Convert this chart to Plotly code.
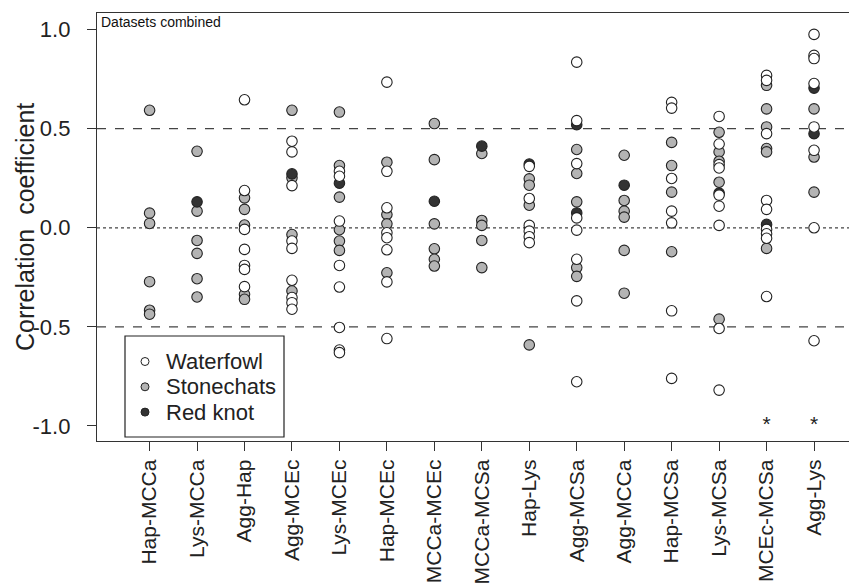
import plotly.graph_objects as go

categories = ["Hap-MCCa", "Lys-MCCa", "Agg-Hap", "Agg-MCEc", "Lys-MCEc", "Hap-MCEc",
              "MCCa-MCEc", "MCCa-MCSa", "Hap-Lys", "Agg-MCSa", "Agg-MCCa", "Hap-MCSa",
              "Lys-MCSa", "MCEc-MCSa", "Agg-Lys"]

waterfowl = {
    "Hap-MCCa": [],
    "Lys-MCCa": [],
    "Agg-Hap": [0.646, 0.188, -0.008, -0.109, -0.19, -0.21, -0.297],
    "Agg-MCEc": [0.437, 0.383, 0.213, -0.067, -0.104, -0.265, -0.352, -0.378, -0.411],
    "Lys-MCEc": [0.285, 0.26, 0.034, -0.19, -0.299, -0.503, -0.617, -0.63],
    "Hap-MCEc": [0.735, 0.285, 0.101, -0.025, -0.05, -0.111, -0.273, -0.559],
    "MCCa-MCEc": [],
    "MCCa-MCSa": [],
    "Hap-Lys": [0.31, 0.148, 0.012, -0.017, -0.045, -0.075],
    "Agg-MCSa": [0.836, 0.541, 0.324, 0.05, -0.012, -0.159, -0.369, -0.777],
    "Agg-MCCa": [],
    "Hap-MCSa": [0.633, 0.604, 0.249, 0.084, 0.025, -0.419, -0.760],
    "Lys-MCSa": [0.562, 0.423, 0.319, 0.302, 0.165, 0.109, 0.012, -0.508, -0.819],
    "MCEc-MCSa": [0.769, 0.744, 0.475, 0.138, 0.093, -0.008, -0.03, -0.053, -0.347],
    "Agg-Lys": [0.976, 0.87, 0.854, 0.728, 0.509, 0.391, 0.0, -0.570],
}

stonechats = {
    "Hap-MCCa": [0.593, 0.074, 0.022, -0.272, -0.416, -0.436],
    "Lys-MCCa": [0.386, 0.084, -0.064, -0.129, -0.257, -0.349],
    "Agg-Hap": [0.151, 0.093, 0.014, -0.336, -0.361],
    "Agg-MCEc": [0.593, 0.252, -0.034, -0.319],
    "Lys-MCEc": [0.584, 0.314, 0.155, -0.010, -0.067, -0.114],
    "Hap-MCEc": [0.331, 0.067, 0.020, -0.227],
    "MCCa-MCEc": [0.526, 0.344, 0.020, -0.106, -0.159, -0.193],
    "MCCa-MCSa": [0.375, 0.037, 0.012, -0.064, -0.201],
    "Hap-Lys": [0.247, 0.215, 0.114, -0.591],
    "Agg-MCSa": [0.395, 0.274, 0.131, -0.201, -0.245],
    "Agg-MCCa": [0.366, 0.138, 0.084, 0.054, -0.114, -0.330],
    "Hap-MCSa": [0.431, 0.314, 0.180, -0.121],
    "Lys-MCSa": [0.482, 0.383, 0.336, 0.230, -0.461],
    "MCEc-MCSa": [0.719, 0.60, 0.509, 0.40, 0.383, -0.104],
    "Agg-Lys": [0.60, 0.357, 0.18],
}

red_knot = {
    "Lys-MCCa": [0.131],
    "Agg-MCEc": [0.272],
    "Lys-MCEc": [0.225],
    "MCCa-MCEc": [0.134],
    "MCCa-MCSa": [0.412],
    "Hap-Lys": [0.322],
    "Agg-MCSa": [0.52, 0.075],
    "Agg-MCCa": [0.215],
    "Lys-MCSa": [0.175],
    "MCEc-MCSa": [0.017],
    "Agg-Lys": [0.705, 0.475],
}

asterisk_categories = ["MCEc-MCSa", "Agg-Lys"]
asterisk_values = [-1.0, -1.0]

legend_labels = ["Waterfowl", "Stonechats", "Red knot"]
colors = {"Waterfowl": "#ffffff", "Stonechats": "#b4b4b4", "Red knot": "#333333"}
series = [("Stonechats", stonechats), ("Red knot", red_knot), ("Waterfowl", waterfowl)]

FONT = "Liberation Sans, Arial, sans-serif"

# The page body has an 8px margin, so the figure is 8px smaller than the window
# and all page-pixel positions below are shifted by 8px into figure pixels.
OFF = 8
W, H = 857 - OFF, 585 - OFF
L, T, B = 97 - OFF, 13 - OFF, 441 - OFF
PW, PH = W - L, B - T


def px_x(px_page):
    return (px_page - OFF - L) / PW


def px_y(py_page):
    return (B - (py_page - OFF)) / PH


fig = go.Figure()

for name, data in series:
    xs, ys = [], []
    for c in categories:
        for v in data.get(c, []):
            xs.append(c)
            ys.append(v)
    fig.add_trace(go.Scatter(
        x=xs, y=ys, mode="markers", showlegend=False, name=name,
        marker=dict(size=10.5, color=colors[name], line=dict(color="#222222", width=1.1)),
    ))

fig.add_trace(go.Scatter(
    x=asterisk_categories, y=asterisk_values, mode="text", text=["*"] * len(asterisk_categories),
    textfont=dict(size=21, color="#222222", family=FONT),
    textposition="middle center", showlegend=False, hoverinfo="skip",
))

for yv, dash in [(0.5, "dash"), (-0.5, "dash"), (0.0, "dot")]:
    fig.add_shape(type="line", xref="paper", yref="y", x0=0, x1=1, y0=yv, y1=yv,
                  line=dict(color="#444444", width=1.3, dash=dash), layer="below")

# legend drawn by hand: box, symbols, labels
fig.add_shape(type="rect", xref="paper", yref="paper",
              x0=px_x(125), x1=px_x(284), y0=px_y(437), y1=px_y(336),
              line=dict(color="#222222", width=1.2), fillcolor="white", layer="above")
for i, lab in enumerate(legend_labels):
    cy = px_y(361.5 + 25.3 * i)
    cx = px_x(145)
    fig.add_shape(type="circle", xref="paper", yref="paper",
                  xsizemode="pixel", ysizemode="pixel", xanchor=cx, yanchor=cy,
                  x0=-4, x1=4, y0=-4, y1=4,
                  line=dict(color="#222222", width=1), fillcolor=colors[lab], layer="above")
    fig.add_annotation(text=lab, xref="paper", yref="paper", x=px_x(164), y=cy,
                       xanchor="left", yanchor="middle", showarrow=False,
                       font=dict(size=22, color="#222222", family=FONT))

fig.add_annotation(text="Correlation  coefficient", xref="paper", yref="paper",
                   x=0, y=0.5, xshift=-72, textangle=-90, showarrow=False,
                   xanchor="center", yanchor="middle",
                   font=dict(size=25, color="#222222", family=FONT))

fig.add_annotation(text="Datasets combined", xref="paper", yref="paper",
                   x=0, y=1, xanchor="left", yanchor="top", xshift=2, yshift=1, showarrow=False,
                   font=dict(size=14, color="#111111", family=FONT))

n = len(categories)
fig.update_layout(
    width=W, height=H,
    margin=dict(l=L, r=0, t=T, b=H - B, pad=0),
    plot_bgcolor="white", paper_bgcolor="white",
    font=dict(family=FONT, color="#222222", size=22),
    showlegend=False,
    xaxis=dict(
        type="category", categoryorder="array", categoryarray=categories,
        range=[-1.108, n - 1 + (857 - 814) / 47.5],
        showline=True, linecolor="#333333", linewidth=1.3, mirror=True,
        ticks="outside", ticklen=9, tickwidth=1.2, tickcolor="#333333",
        tickangle=-90, tickfont=dict(size=21, color="#222222"),
        showgrid=False, zeroline=False, fixedrange=True, automargin=False,
    ),
    yaxis=dict(
        range=[-1.076, 1.084],
        tickvals=[-1.0, -0.5, 0.0, 0.5, 1.0],
        ticktext=["-1.0", "-0.5", "0.0", "0.5", "1.0"],
        showline=True, linecolor="#333333", linewidth=1.3, mirror=False,
        ticks="outside", ticklen=9, tickwidth=1.2, tickcolor="#333333",
        ticklabelstandoff=12,
        tickfont=dict(size=22, color="#222222"),
        showgrid=False, zeroline=False, fixedrange=True, automargin=False,
    ),
)

fig.write_html("out.html")
